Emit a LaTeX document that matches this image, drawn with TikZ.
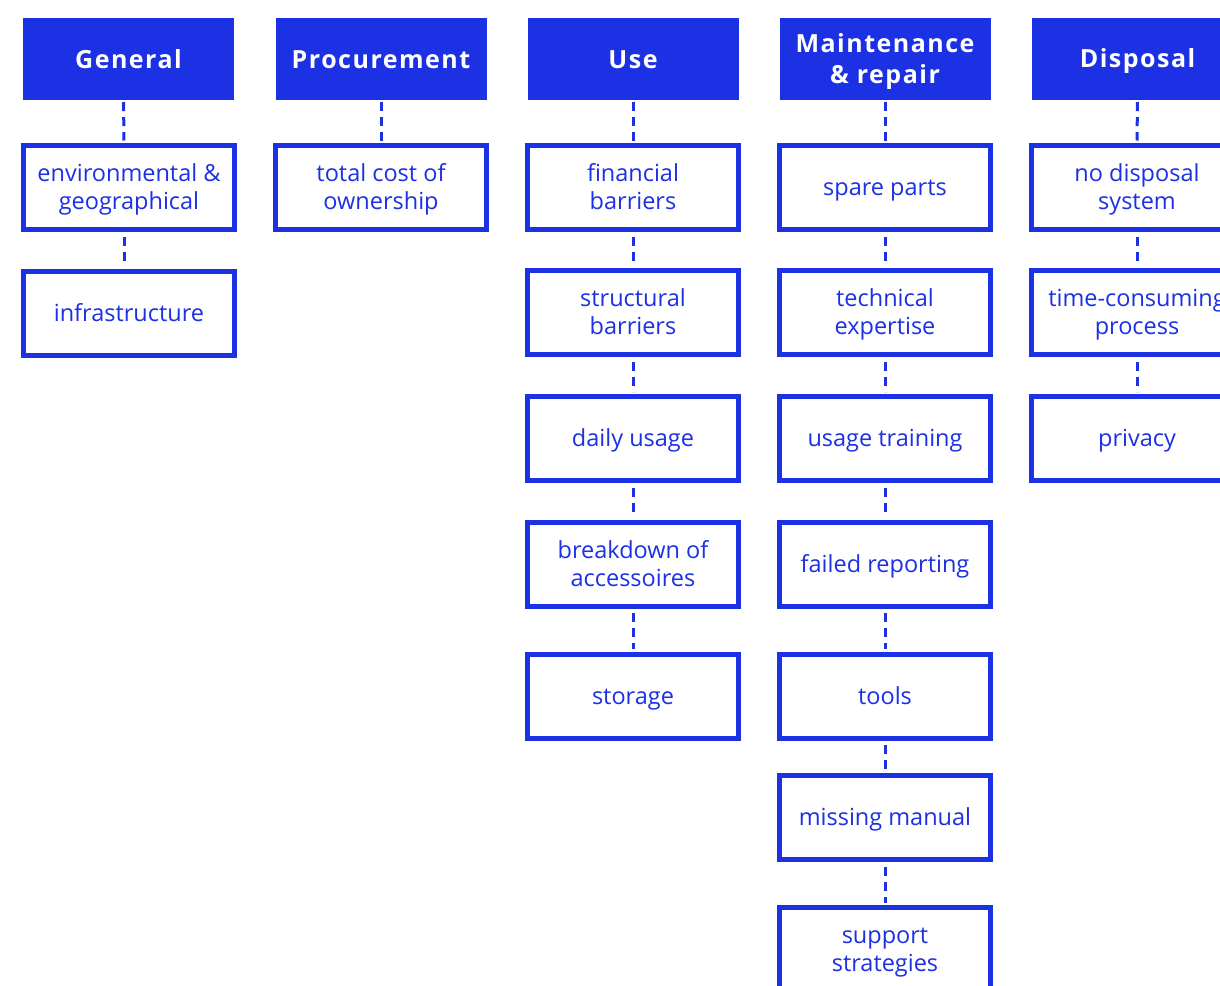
\documentclass[tikz,border=0pt]{standalone}
\usepackage{fontspec}
\setmainfont{Open Sans}
\newfontfamily\headfont[LetterSpace=6]{Open Sans Bold}
\definecolor{barblue}{RGB}{28,48,228}
% fixed line struts so text sits on the same baselines whatever its descenders
\newcommand{\itemstrut}{\rule[-6pt]{0pt}{28pt}}
\newcommand{\headstrut}{\rule[-6pt]{0pt}{30pt}}
% two-line labels carry the struts inside their first and last lines
\newcommand{\itempair}[2]{\itemstrut#1\\#2\itemstrut}
\newcommand{\headpair}[2]{\headstrut#1\\#2\headstrut}
\begin{document}
\begin{tikzpicture}[x=1pt,y=-1pt,
  header/.style={fill=barblue, draw=none, minimum width=211pt, minimum height=82pt,
    text=white, align=center, inner sep=0pt,
    font=\headfont\fontsize{25}{31}\selectfont,
    execute at begin node=\headstrut, execute at end node=\headstrut},
  item/.style={draw=barblue, line width=5pt, fill=white, minimum width=211pt,
    minimum height=84pt, text=barblue, align=center, inner sep=0pt,
    font=\fontsize{23.5}{28}\selectfont,
    execute at begin node=\itemstrut, execute at end node=\itemstrut},
  link/.style={draw=barblue, line width=3pt, dash pattern=on 9pt off 6pt, dash phase=-2pt}]
\useasboundingbox (0,0) rectangle (1220,985);
\fill[white] (0,0) rectangle (1220,985);

% headers
\node[header] (hG) at (128.5,59) {General};
\node[header] (hP) at (381,59) {Procurement};
\node[header] (hU) at (633,59) {Use};
\node[header] (hM) at (885,59) {\headpair{Maintenance}{\& repair}};
\node[header] (hD) at (1137.5,59) {Disposal};

% General
\node[item] (g1) at (129,187.5) {\itempair{environmental \&}{geographical}};
\node[item] (g2) at (129,313) {infrastructure};
% Procurement
\node[item] (p1) at (381,187.5) {\itempair{total cost of}{ownership}};
% Use
\node[item] (u1) at (633,187.5) {\itempair{financial}{barriers}};
\node[item] (u2) at (633,312.5) {\itempair{structural}{barriers}};
\node[item] (u3) at (633,438.5) {daily usage};
\node[item] (u4) at (633,564) {\itempair{breakdown of}{accessoires}};
\node[item] (u5) at (633,696) {storage};
% Maintenance & repair
\node[item] (m1) at (885,187.5) {spare parts};
\node[item] (m2) at (885,312.5) {\itempair{technical}{expertise}};
\node[item] (m3) at (885,438.5) {usage training};
\node[item] (m4) at (885,564) {failed reporting};
\node[item] (m5) at (885,696) {tools};
\node[item] (m6) at (885,817.5) {missing manual};
\node[item] (m7) at (885,949.5) {\itempair{support}{strategies}};
% Disposal
\node[item] (d1) at (1137,187.5) {\itempair{no disposal}{system}};
\node[item] (d2) at (1137,312.5) {\itempair{time-consuming}{process}};
\node[item] (d3) at (1137,438.5) {privacy};

% dashed links between the column entries
\path[link] ([xshift=-5pt]hG.south) -- ([xshift=-5pt,yshift=2.5pt]g1.north);
\path[link] ([xshift=-5pt,yshift=-2.5pt]g1.south) -- ([xshift=-5pt,yshift=2.5pt]g2.north);
\path[link] (hP.south) -- ([yshift=2.5pt]p1.north);
\path[link] (hU.south) -- ([yshift=2.5pt]u1.north);
\path[link] (hM.south) -- ([yshift=2.5pt]m1.north);
\path[link] (hD.south) -- ([yshift=2.5pt]d1.north);
\foreach \a/\b in {u1/u2,u2/u3,u3/u4,u4/u5,m1/m2,m2/m3,m3/m4,m4/m5,m5/m6,m6/m7,d1/d2,d2/d3}
  \path[link] ([yshift=-2.5pt]\a.south) -- ([yshift=2.5pt]\b.north);
\end{tikzpicture}
\end{document}
